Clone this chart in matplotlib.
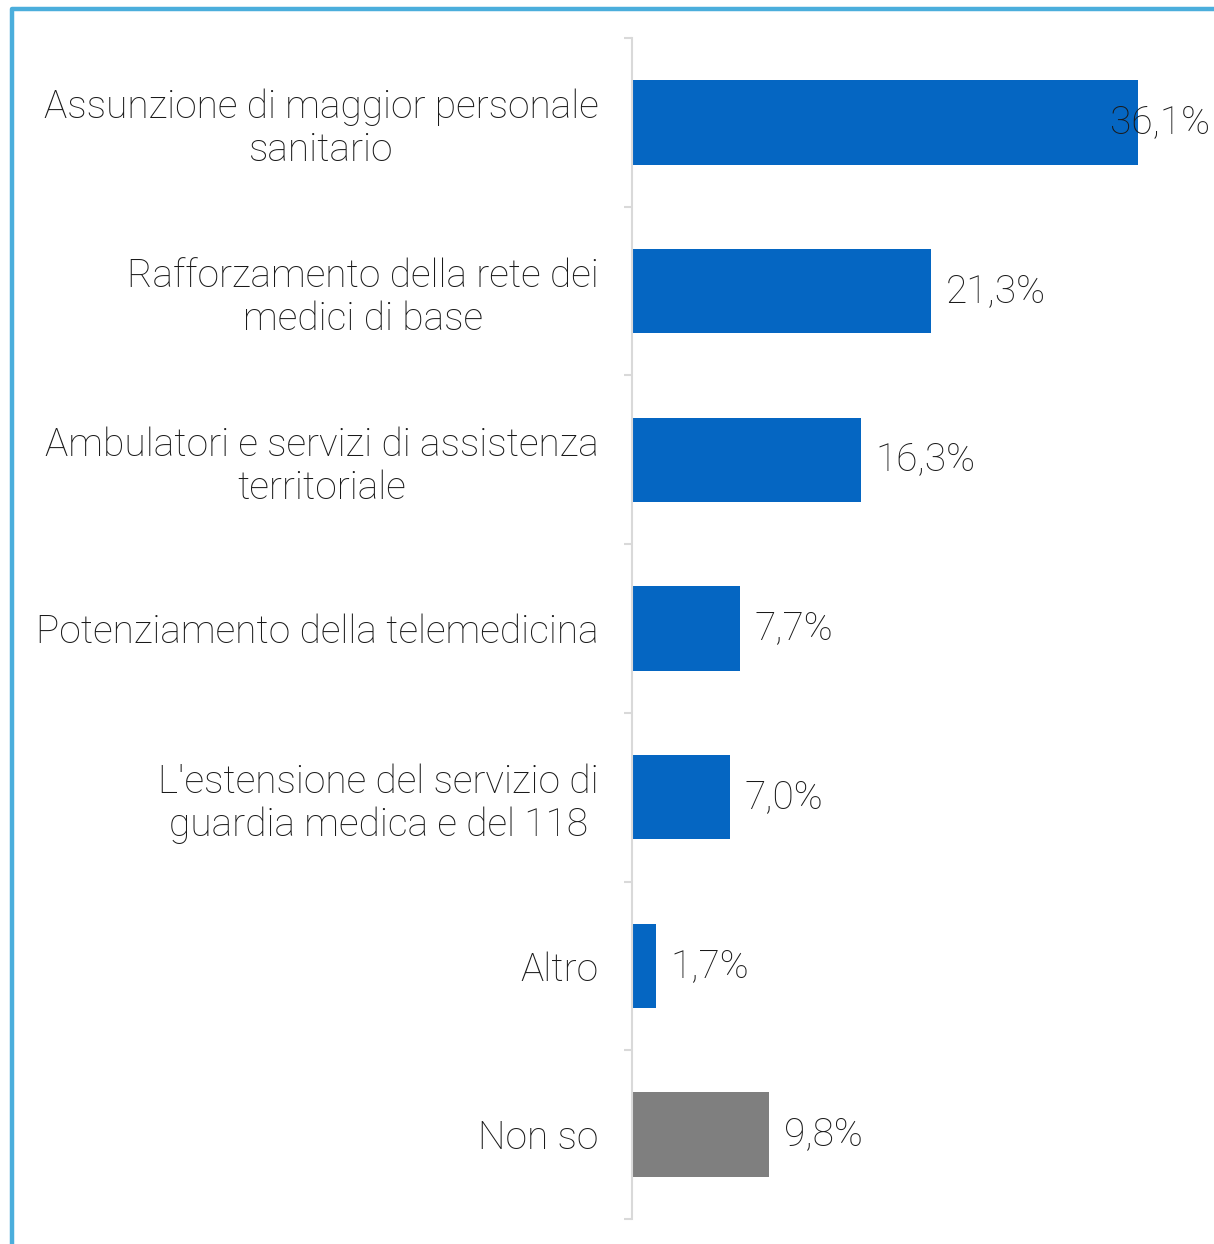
import matplotlib
matplotlib.use("Agg")
import matplotlib.pyplot as plt
from matplotlib.lines import Line2D

# Data
categories = [
    "Assunzione di maggior personale\nsanitario",
    "Rafforzamento della rete dei\nmedici di base",
    "Ambulatori e servizi di assistenza\nterritoriale",
    "Potenziamento della telemedicina",
    "L'estensione del servizio di\nguardia medica e del 118",
    "Altro",
    "Non so",
]
values = [36.1, 21.3, 16.3, 7.7, 7.0, 1.7, 9.8]
value_labels = ["36,1%", "21,3%", "16,3%", "7,7%", "7,0%", "1,7%", "9,8%"]
bar_colors = ["#0566C2"] * 6 + ["#7F7F7F"]

FONT = "Roboto"
FSIZE = 28
TEXT_COLOR = "#1A1A1A"
AXIS_GRAY = "#D9D9D9"
FRAME_BLUE = "#4BAEDC"

W, H = 1214, 1244
fig = plt.figure(figsize=(W / 100, H / 100), dpi=100)
ax = fig.add_axes([632 / W, 1 - 1219 / H, (W - 632) / W, (1219 - 38) / H])

ypos = list(range(len(categories)))
ax.barh(ypos, values, height=0.5, color=bar_colors)
ax.set_xlim(0, 41.5)
ax.set_ylim(len(categories) - 0.5, -0.5)

# value labels (keep the largest one inside the figure)
for y, v, lab in zip(ypos, values, value_labels):
    x = min(v + 1.05, 34.1)
    ax.text(x, y, lab, va="center", ha="left", fontsize=FSIZE, family=FONT,
            weight="light", color=TEXT_COLOR)

# axes styling
for side in ["top", "right", "bottom"]:
    ax.spines[side].set_visible(False)
ax.spines["left"].set_color(AXIS_GRAY)
ax.spines["left"].set_linewidth(1.5)
ax.xaxis.set_visible(False)

ax.set_yticks(ypos)
ax.set_yticklabels(categories)
ax.tick_params(axis="y", which="major", length=0, pad=24)
ax.set_yticks([y - 0.5 for y in ypos] + [len(ypos) - 0.5], minor=True)
ax.tick_params(axis="y", which="minor", length=6, width=1.5, color=AXIS_GRAY)
for t in ax.get_yticklabels():
    t.set_fontsize(FSIZE)
    t.set_family(FONT)
    t.set_weight("light")
    t.set_color(TEXT_COLOR)
    t.set_multialignment("center")
    t.set_linespacing(1.18)

# light blue frame on left and top
frame = Line2D([12 / W, 12 / W, 1.05], [-0.05, 1 - 9 / H, 1 - 9 / H],
               transform=fig.transFigure, color=FRAME_BLUE, linewidth=3.2,
               solid_joinstyle="round")
fig.add_artist(frame)

fig.savefig("out.png", dpi=100)
